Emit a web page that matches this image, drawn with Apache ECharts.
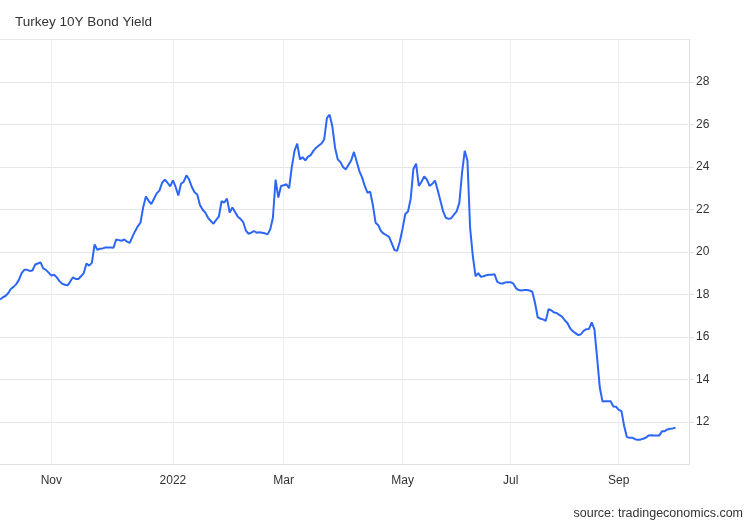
<!DOCTYPE html>
<html>
<head>
<meta charset="utf-8">
<script src="https://cdn.jsdelivr.net/npm/echarts@6/dist/echarts.min.js"></script>
<style>
  html, body { margin: 0; padding: 0; background: #fff; }
  #chart { width: 750px; height: 520px; }
</style>
</head>
<body>
<div id="chart"></div>
<script>
// Trading-day calendar (Turkish market) used as the category axis
const startDate = '2021-10-04';
const categoryCount = 256;
const holidays = ['2021-10-29', '2022-05-02', '2022-05-03', '2022-05-04', '2022-05-19',
                  '2022-07-11', '2022-07-12', '2022-07-15', '2022-08-30'];
const monthTickLabels = { 10: 'Nov', 0: '2022', 2: 'Mar', 4: 'May', 6: 'Jul', 8: 'Sep' };

// Turkey 10Y bond yield (%), one value per trading day
const yieldOct2021Dec2021 = [
  17.76, 17.85, 17.92, 18.05, 18.25, 18.35, 18.48, 18.68, 19.0, 19.15,
  19.15, 19.1, 19.12, 19.4, 19.45, 19.5, 19.22, 19.15, 19.02, 18.88,
  18.92, 18.8, 18.62, 18.5, 18.45, 18.42, 18.6, 18.8, 18.72, 18.72,
  18.85, 19.0, 19.45, 19.35, 19.48, 20.35, 20.1, 20.14, 20.16, 20.2,
  20.2, 20.2, 20.19, 20.58, 20.55, 20.52, 20.58, 20.48, 20.42, 20.7,
  20.97, 21.2, 21.38
];
const yieldDec2021Feb2022 = [
  22.1, 22.6, 22.4, 22.25, 22.5, 22.75, 22.88, 23.25, 23.4, 23.25,
  23.08, 23.36, 23.05, 22.65, 23.2, 23.3, 23.6, 23.4, 23.05, 22.8,
  22.7, 22.2, 21.98, 21.84, 21.6, 21.45, 21.32, 21.5, 21.66, 22.38,
  22.32, 22.5, 21.85, 22.08, 21.87, 21.65, 21.55, 21.4, 21.0, 20.85,
  20.9, 20.98, 20.9, 20.92, 20.9, 20.87, 20.82, 21.05, 21.6, 23.4,
  22.55, 23.1
];
const yieldMar2022May2022 = [
  23.13, 23.18, 22.99, 24.0, 24.75, 25.09, 24.35, 24.45, 24.3, 24.48,
  24.55, 24.75, 24.9, 25.0, 25.1, 25.3, 26.3, 26.45, 25.9, 24.9,
  24.35, 24.22, 23.98, 23.88, 24.1, 24.31, 24.7, 24.25, 23.8, 23.5,
  23.1, 22.78, 22.83, 22.2, 21.37, 21.25, 20.98, 20.85, 20.78, 20.7,
  20.4, 20.08, 20.05, 20.5, 21.1, 21.78, 21.9, 22.5, 23.9, 24.15,
  23.1
];
const yieldMay2022Aug2022 = [
  23.3, 23.55, 23.4, 23.1, 23.2, 23.35, 22.9, 22.4, 21.9, 21.6,
  21.55, 21.58, 21.75, 21.9, 22.3, 23.72, 24.75, 24.3, 21.1, 19.8,
  18.85, 19.0, 18.82, 18.85, 18.9, 18.92, 18.92, 18.95, 18.6, 18.52,
  18.51, 18.56, 18.57, 18.57, 18.5, 18.28, 18.2, 18.18, 18.2, 18.2,
  18.18, 18.12, 17.6, 16.92, 16.85, 16.82, 16.75, 17.3, 17.25, 17.15
];
const yieldAug2022Sep2022 = [
  17.12, 17.03, 16.95, 16.78, 16.65, 16.4, 16.26, 16.17, 16.08, 16.12,
  16.28, 16.36, 16.37, 16.68, 16.35, 15.0, 13.6, 12.95, 12.97, 12.97,
  12.97, 12.72, 12.71, 12.56, 12.5, 11.8, 11.28, 11.25, 11.25, 11.18,
  11.15, 11.16, 11.2, 11.25, 11.35, 11.37, 11.36, 11.36, 11.36, 11.55,
  11.56, 11.64, 11.67, 11.69, 11.72
];
const yields = [].concat(yieldOct2021Dec2021, yieldDec2021Feb2022, yieldMar2022May2022,
                         yieldMay2022Aug2022, yieldAug2022Sep2022);

function pad(n) { return n < 10 ? '0' + n : '' + n; }
function fmt(d) { return d.getUTCFullYear() + '-' + pad(d.getUTCMonth() + 1) + '-' + pad(d.getUTCDate()); }
const categories = [];
(function () {
  const d = new Date(startDate + 'T00:00:00Z');
  while (categories.length < categoryCount) {
    const wd = d.getUTCDay();
    const s = fmt(d);
    if (wd !== 0 && wd !== 6 && holidays.indexOf(s) < 0) categories.push(s);
    d.setUTCDate(d.getUTCDate() + 1);
  }
})();
function monthOf(s) { return parseInt(s.slice(5, 7), 10) - 1; }
function isMonthStart(index) {
  if (index === 0) return false;
  const m = monthOf(categories[index]);
  return m !== monthOf(categories[index - 1]) && monthTickLabels.hasOwnProperty(m);
}

const chart = echarts.init(document.getElementById('chart'), null, { renderer: 'canvas' });
const FONT = '"Liberation Sans", Arial, Helvetica, sans-serif';
chart.setOption({
  animation: false,
  backgroundColor: '#ffffff',
  title: [
    { text: 'Turkey 10Y Bond Yield', left: 10, top: 10,
      textStyle: { fontFamily: FONT, fontSize: 13.5, fontWeight: 'normal', color: '#333' } },
    { text: 'source: tradingeconomics.com', right: 2, top: 502,
      textStyle: { fontFamily: FONT, fontSize: 12.5, fontWeight: 'normal', color: '#333' } }
  ],
  grid: { left: 0, right: 61, top: 39.3, bottom: 55.7, containLabel: false },
  xAxis: {
    type: 'category',
    data: categories,
    boundaryGap: false,
    axisLine: { show: true, lineStyle: { color: '#e0e0e0', width: 1 } },
    axisTick: { show: false },
    axisLabel: {
      interval: function (index) { return isMonthStart(index); },
      formatter: function (value) { return monthTickLabels[monthOf(value)]; },
      color: '#333', fontFamily: FONT, fontSize: 12, margin: 10
    },
    splitLine: {
      show: true,
      interval: function (index) { return isMonthStart(index); },
      lineStyle: { color: '#edf1f6', width: 1 }
    }
  },
  yAxis: {
    type: 'value',
    position: 'right',
    min: 10, max: 30, interval: 2,
    axisLine: { show: true, lineStyle: { color: '#e0e0e0', width: 1 } },
    axisTick: { show: true, length: 5, lineStyle: { color: '#e0e0e0' } },
    axisLabel: { showMinLabel: false, showMaxLabel: false, color: '#333',
                 fontFamily: FONT, fontSize: 12, margin: 7 },
    splitLine: { show: true, lineStyle: { color: '#e6e6e6', width: 1 } }
  },
  series: [{
    type: 'line',
    data: yields,
    showSymbol: false,
    symbol: 'none',
    lineStyle: { color: '#2d66f6', width: 2 },
    itemStyle: { color: '#2d66f6' }
  }]
});
</script>
</body>
</html>
